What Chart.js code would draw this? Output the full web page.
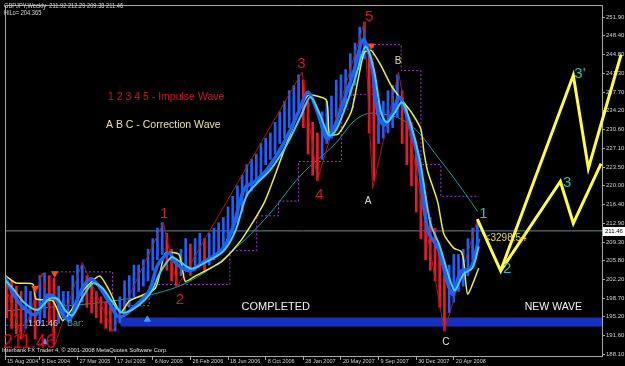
<!DOCTYPE html>
<html>
<head>
<meta charset="utf-8">
<title>GBPJPY Weekly - Elliott Wave</title>
<script src="https://cdn.jsdelivr.net/npm/chart.js"></script>
<style>
  html, body { margin: 0; padding: 0; background: #000; }
  #wrap { width: 625px; height: 366px; }
</style>
</head>
<body>
<div id="wrap"><canvas id="waveChart" width="625" height="366"></canvas></div>
<script>
// x values are weeks counted from 15 Aug 2004
var dateLabels = ['15 Aug 2004', '5 Dec 2004', '27 Mar 2005', '17 Jul 2005', '6 Nov 2005', '26 Feb 2006',
    '18 Jun 2006', '8 Oct 2006', '28 Jan 2007', '20 May 2007', '9 Sep 2007', '30 Dec 2007', '20 Apr 2008'];
var dateWeeks = [0, 16, 32, 48, 64, 80, 96, 112, 128, 144, 160, 176, 192];
var priceTicks = [188.10, 191.60, 195.20, 198.70, 202.20, 205.80, 209.30, 212.90, 216.40, 220.00,
    223.50, 227.10, 230.60, 234.20, 237.70, 241.30, 244.80, 248.40, 251.90];
var lastPrice = 211.46;

// price bars, one every two weeks (high / low)
var barHigh = [203, 202, 202, 201, 200, 201, 200, 199, 203, 203.5,
    203, 202.5, 201, 200, 200, 203, 205, 205, 203, 201,
    200, 199, 198, 197, 197, 199, 202, 203, 205, 205,
    206, 208, 210, 212, 213, 211, 208, 206, 208, 210,
    209, 210, 211, 210, 211, 212, 213, 214, 216, 218,
    220, 222, 224, 225, 226, 228, 229, 230, 232, 234,
    236, 238, 239, 241, 240, 236, 232, 230, 234, 236,
    237, 240, 241, 242, 245, 247, 250, 251, 245, 240,
    236, 236, 238, 239, 241, 238, 235, 232, 226, 222,
    218, 214, 212, 208, 203, 205, 207, 207, 208, 210,
    212, 213];
var barLow = [196, 195, 193, 192, 191, 193, 194, 191, 194, 195,
    194, 190, 194, 195, 195, 197, 198, 198, 197, 196,
    195, 194, 193, 192.5, 192.5, 194, 196, 197, 199, 200,
    201, 202, 204, 206, 207, 204, 202, 201, 203, 204,
    203, 204, 205, 204, 205, 206, 207, 208, 209, 211,
    213, 215, 218, 219, 221, 222, 224, 225, 226, 228,
    229, 231, 232, 234, 231, 226, 222, 221, 225, 228,
    229, 233, 234, 235, 237, 239, 242, 244, 230, 221,
    228, 229, 230, 231, 233, 228, 224, 220, 215, 210,
    206, 204, 202, 197, 192.5, 196, 198, 200, 201, 203,
    206, 208];

// fast average (blue)
var blueWeeks = [0.5, 4.6, 8.8, 14.3, 19.4, 22.8, 25.7, 28.7, 32.9, 37.6, 41.4, 45.6, 49.8, 56.6, 62.5, 66,
    71, 73.5, 79.5, 85, 93.4, 98, 103, 108, 113, 120, 126, 130, 134, 138, 141, 145.5, 149.7, 153.5, 156.9,
    159.8, 162.4, 166.2, 168.7, 172.5, 176.8, 181, 185.3, 189.5, 191.6, 195, 199.2, 202.6];
var blueValues = [203.4, 199.6, 197, 195.6, 199.3, 198.7, 195.6, 194.6, 199.6, 202.4, 200.8, 197.8, 195.1, 197.3,
    200.1, 204.9, 207.3, 205.5, 203.9, 205.4, 207.9, 212, 219.5, 221, 223.3, 228.3, 234, 237.7, 234, 228.9,
    230.8, 236.4, 242, 247.7, 243.3, 233.4, 231.5, 234, 236.8, 232.6, 225, 211.4, 208.2, 201.4, 199.5, 203.8,
    204.4, 210];

// second fast average (cyan)
var cyanWeeks = [0.5, 5, 9.5, 15, 20, 23.5, 27, 30, 34, 38.5, 42.5, 46.5, 51, 57.5, 63.5, 67, 72, 75, 80.5, 86,
    94, 99, 104, 109, 114, 121, 127, 131, 135, 139, 142, 146.5, 150.5, 154.5, 158, 161, 163.5, 167, 170, 173.5,
    177.5, 182, 186, 190.5, 192.5, 196, 200, 202.6];
var cyanValues = [202.5, 200.3, 197.8, 196.5, 198.6, 198.6, 196.3, 195.5, 198.8, 201.5, 200.7, 198.2, 196, 197.2,
    200, 203.5, 206.5, 205.8, 204.3, 205.4, 207.6, 211.3, 218.2, 220.8, 223, 227.8, 233.2, 236.8, 233.6, 229.5,
    230.6, 235.6, 241, 246.3, 242, 234, 232, 233.9, 235.8, 232, 225, 213, 208.6, 202, 200.2, 203.2, 204.5, 208.5];

// medium average (yellow)
var yellowWeeks = [0.5, 5.8, 13, 14.3, 21.5, 25.7, 30, 34.2, 41.4, 45.6, 50.3, 54.1, 65.1, 69.3, 75.2, 77.8, 82,
    93.4, 101.9, 111.6, 120.1, 126, 130.2, 137.8, 139.1, 142.9, 148.4, 151.3, 153.9, 156.9, 161.1, 165.3, 169.6,
    173.8, 178, 179.3, 180.9, 185.1, 187.8, 192, 195, 196.2, 197.9, 202.6];
var yellowValues = [203.3, 201.6, 201.4, 198.6, 198.2, 194.5, 196.9, 200.1, 202.9, 200.1, 196, 198.2, 200.6, 207.2,
    207, 201.9, 202.9, 205.7, 209.9, 217, 227, 233.9, 237.1, 236.2, 229.8, 229.8, 234, 240.1, 245.2, 245.6,
    242.7, 239, 236.4, 234, 230.7, 226.4, 222.7, 217, 210.8, 208.2, 207.6, 205.8, 199.5, 204.4];

// slow average (teal)
var tealWeeks = [0.5, 20, 46.9, 69.3, 85, 100, 113.3, 127, 141, 152.6, 164, 172, 178, 183.5, 192, 202.2];
var tealValues = [196.3, 197, 198.2, 200.1, 203.3, 208.5, 214.5, 222, 227.7, 233.2, 233.4, 232, 229.6, 226.4, 221.5, 215.1];

// zigzag through the swing points
var zigWeeks = [0, 8.5, 17, 22.5, 34, 47, 68.5, 74.5, 127.5, 134, 154, 157.5, 168.5, 188, 202];
var zigValues = [203, 191, 203.5, 190, 205.5, 192.5, 213, 201, 241.5, 221, 251, 219.5, 241.5, 192.5, 213.5];

// stepped trailing stop (purple dots)
var stopWeeks = [0, 22.3, 46.9, 62.5, 96.8, 108.2, 117.5, 126, 144.2, 149.3, 157.7, 169.6, 178, 186.5, 202.6];
var stopValues = [193.6, 203.7, 197.3, 201.3, 207.7, 214.3, 217.1, 224.6, 234.5, 237.3, 246.7, 241.8, 224, 218, 218];

// signal arrows
var sellWeeks = [13.9, 22.3, 156.9];
var sellPrices = [200.6, 203.4, 246.5];
var buyWeeks = [18.1, 61.7];
var buyPrices = [190.4, 194.7];

// support zone and the two projected new waves
var bandLevel = 194.2;
var bandStart = 50.3;
var projAWeeks = [202, 211.9, 242.8, 249.2, 263.1];
var projAValues = [213.7, 203.9, 240.9, 223.3, 244.8];
var projBWeeks = [211.9, 237.3, 242.8, 254.6];
var projBValues = [203.9, 220.8, 212.9, 224.2];

var xMin = 1.18, xMax = 255.0;
var yMin = 187.78, yMax = 254.21;

function pts(ws, vs) {
    return ws.map(function (w, i) { return { x: w, y: vs[i] }; });
}

var fontFamily = '"Liberation Sans", Arial, sans-serif';
Chart.defaults.font.family = fontFamily;

var labelPlugin = {
    id: 'waveLabels',
    beforeDraw: function (chart) {
        var c = chart.ctx;
        c.save();
        c.fillStyle = '#000';
        c.fillRect(0, 0, chart.width, chart.height);
        c.restore();
    },
    afterDatasetsDraw: function (chart) {
        var c = chart.ctx, sx = chart.scales.x, sy = chart.scales.y, a = chart.chartArea;
        c.save();
        c.strokeStyle = '#a8a8a8';
        c.lineWidth = 1;
        c.beginPath();
        c.moveTo(a.left + 0.5, a.bottom);
        c.lineTo(a.left + 0.5, a.top + 0.5);
        c.lineTo(a.right, a.top + 0.5);
        c.stroke();

        function text(str, px, py, colour, size, align, squeeze) {
            c.save();
            c.font = size + 'px ' + fontFamily;
            c.fillStyle = colour;
            c.textAlign = align || 'center';
            c.textBaseline = 'middle';
            c.translate(px, py);
            c.scale(squeeze || 1, 1);
            c.fillText(str, 0, 0);
            c.restore();
        }
        function at(str, wk, pr, colour, size, align) {
            text(str, sx.getPixelForValue(wk), sy.getPixelForValue(pr), colour, size, align);
        }

        // header
        text('GBPJPY,Weekly  211.92 212.29 209.38 211.46', 4, 6, '#d8d8d8', 6.5, 'left', 0.88);
        text('HiLo= 204.365', 4, 13, '#d8d8d8', 6.5, 'left', 0.88);

        // legend notes
        text('1 2 3 4 5 - Impulse Wave', 108, 97, '#d0142a', 10.5, 'left');
        text('A B C - Correction Wave', 106, 125, '#ece0a8', 10.5, 'left');

        // impulse wave counts
        var red = '#d4182a';
        at('1', 68.9, 214.6, red, 15);
        at('2', 75.6, 198.4, red, 15);
        at('3', 127.2, 243.1, red, 15);
        at('4', 134.9, 218.3, red, 15);
        at('5', 156.0, 251.9, red, 15);

        // correction
        at('A', 155.6, 217.0, '#dcdcdc', 10);
        at('B', 168.3, 243.5, '#ecdca8', 10);
        at('C', 188.6, 190.3, '#e4e4e4', 10);

        // new wave counts
        var cyan = '#2cbcc4';
        at('1', 204.6, 214.6, cyan, 15);
        at('2', 214.7, 204.2, cyan, 15);
        at('3', 240.2, 220.5, cyan, 15);
        at("3'", 245.6, 241.2, cyan, 15);

        at('COMPLETED', 116.3, 197.0, '#f2f2f2', 11);
        at('NEW WAVE', 234.3, 197.0, '#f2f2f2', 10.5);
        at('<3298.54', 205.1, 210.1, '#e6dc3c', 10, 'left');

        // indicator readouts
        text('1:01:46', 28, 324, '#c8c8c8', 9, 'left');
        text('Bar:', 67, 324, '#3cb0a4', 9, 'left');
        text('211.46', 3, 342, '#e8000c', 20, 'left', 0.88);
        text('Interbank FX Trader 4, \u00a9 2001-2008 MetaQuotes Software Corp.', 2, 350, '#e0e0e0', 6, 'left', 0.96);
        c.restore();
    },
    afterDraw: function (chart) {
        var c = chart.ctx, sy = chart.scales.y, a = chart.chartArea;
        var py = Math.round(sy.getPixelForValue(lastPrice));
        c.save();
        c.fillStyle = '#ffffff';
        c.fillRect(a.right + 1, py - 4, 22, 9);
        c.fillStyle = '#000';
        c.font = '6px ' + fontFamily;
        c.textAlign = 'left';
        c.textBaseline = 'middle';
        c.fillText(lastPrice.toFixed(2), a.right + 3, py + 0.5);
        c.restore();
    }
};

var ctxWave = document.getElementById('waveChart').getContext('2d');
var waveChart = new Chart(ctxWave, {
    type: 'bar',
    data: {
        datasets: [
            {
                type: 'line', label: 'wave A', data: pts(projAWeeks, projAValues),
                borderColor: '#ffff38', borderWidth: 3, pointRadius: 0, clip: false, order: 0
            },
            {
                type: 'line', label: 'wave B', data: pts(projBWeeks, projBValues),
                borderColor: '#ffff38', borderWidth: 3, pointRadius: 0, clip: false, order: 0
            },
            {
                type: 'line', label: 'sell', data: pts(sellWeeks, sellPrices), showLine: false,
                pointStyle: 'triangle', rotation: 180, pointRadius: 3.5,
                backgroundColor: '#ff4a1c', borderColor: '#ff4a1c', order: 1
            },
            {
                type: 'line', label: 'buy', data: pts(buyWeeks, buyPrices), showLine: false,
                pointStyle: 'triangle', pointRadius: 3.5,
                backgroundColor: '#3a98ff', borderColor: '#3a98ff', order: 1
            },
            {
                type: 'line', label: 'cyan', data: pts(cyanWeeks, cyanValues),
                borderColor: '#40d0ee', borderWidth: 2, pointRadius: 0, tension: 0.3, order: 2
            },
            {
                type: 'line', label: 'blue', data: pts(blueWeeks, blueValues),
                borderColor: '#1c64f0', borderWidth: 3.5, pointRadius: 0, tension: 0.3, order: 3
            },
            {
                type: 'line', label: 'yellow', data: pts(yellowWeeks, yellowValues),
                borderColor: '#eeee3a', borderWidth: 1.5, pointRadius: 0, tension: 0.2, order: 4
            },
            {
                type: 'line', label: 'zigzag', data: pts(zigWeeks, zigValues),
                borderColor: '#a81a1e', borderWidth: 1, pointRadius: 0, order: 5
            },
            {
                type: 'bar', label: 'price',
                data: barHigh.map(function (h, i) { return { x: i * 2, y: [barLow[i], h] }; }),
                backgroundColor: function (ctx) {
                    var i = ctx.dataIndex;
                    var mid = barHigh[i] + barLow[i];
                    var prev = i > 0 ? barHigh[i - 1] + barLow[i - 1] : mid;
                    return mid >= prev ? '#1e60ff' : '#ec1a26';
                },
                barThickness: 2, borderWidth: 0, order: 6
            },
            {
                type: 'line', label: 'teal', data: pts(tealWeeks, tealValues),
                borderColor: '#1a9c9c', borderWidth: 1, pointRadius: 0, tension: 0.4, order: 7
            },
            {
                type: 'line', label: 'stop', data: pts(stopWeeks, stopValues), stepped: 'before',
                borderColor: '#a63ccc', borderWidth: 1, borderDash: [2, 2], pointRadius: 0, order: 8
            },
            {
                type: 'line', label: 'last', data: pts([xMin, xMax], [lastPrice, lastPrice]),
                borderColor: '#6c8888', borderWidth: 1, pointRadius: 0, order: 9
            },
            {
                type: 'line', label: 'zone', data: pts([bandStart, xMax], [bandLevel, bandLevel]),
                borderColor: '#1630c0', borderWidth: 9, borderCapStyle: 'butt', pointRadius: 0, order: 10
            }
        ]
    },
    options: {
        responsive: false,
        animation: false,
        layout: { padding: { left: 2, top: 2, right: 0, bottom: 0 } },
        plugins: {
            legend: { display: false },
            tooltip: { enabled: false }
        },
        scales: {
            x: {
                type: 'linear', min: xMin, max: xMax, offset: false, position: 'bottom',
                afterBuildTicks: function (s) {
                    s.ticks = dateWeeks.map(function (w) { return { value: Math.max(w, xMin) }; });
                },
                afterFit: function (s) { s.height = 10; },
                ticks: {
                    autoSkip: false, maxRotation: 0, align: 'start', labelOffset: 2, padding: -2,
                    color: '#d0d0d0', font: { size: 5.5 },
                    callback: function (v, i) { return dateLabels[i]; }
                },
                grid: { drawOnChartArea: false, tickLength: 4, color: '#a8a8a8', offset: false },
                border: { color: '#a8a8a8' }
            },
            y: {
                position: 'right', min: yMin, max: yMax,
                afterBuildTicks: function (s) {
                    s.ticks = priceTicks.map(function (v) { return { value: v }; });
                },
                afterFit: function (s) { s.width = 23; },
                ticks: {
                    autoSkip: false, padding: 1, color: '#d0d0d0', font: { size: 6 },
                    callback: function (v) { return Number(v).toFixed(2); }
                },
                grid: { drawOnChartArea: false, tickLength: 3, color: '#a8a8a8' },
                border: { color: '#a8a8a8' }
            }
        }
    },
    plugins: [labelPlugin]
});
</script>
</body>
</html>
